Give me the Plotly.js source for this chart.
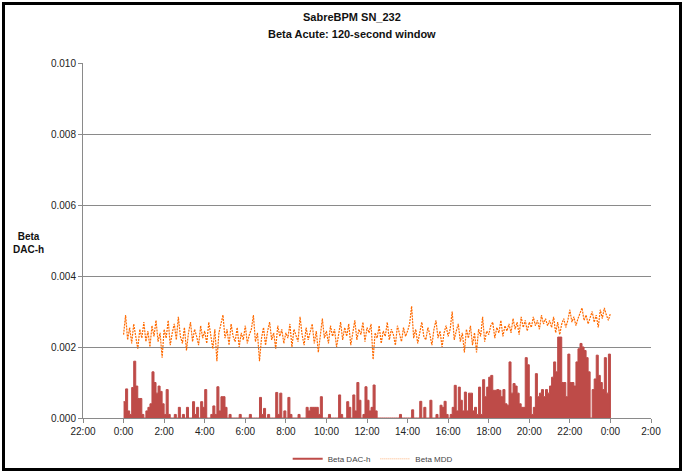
<!DOCTYPE html>
<html>
<head>
<meta charset="utf-8">
<script src="https://cdn.plot.ly/plotly-3.0.1.min.js"></script>
<style>
  html, body { margin: 0; padding: 0; background: #fff; }
  #wrap { position: relative; width: 686px; height: 474px; }
  #chart { width: 686px; height: 474px; }
  #frame { position: absolute; left: 2px; top: 2px; width: 680px; height: 469px;
           box-sizing: border-box; border: 3px solid #000; pointer-events: none; }
</style>
</head>
<body>
<div id="wrap"><div id="chart"></div><div id="frame"></div></div>
<script>
// ---- data (hours since midnight; 6-minute samples starting at 0:00) ----
const sampleStartHour = 0;
const sampleStepHours = 0.1;

// Beta DAC-h (one row per hour, 10 samples each, final sample at 24:00)
const betaDAC = [
  0.00046,0.00082,0.00020,0.00010,0.00086,0.00160,0.00090,0.00055,0.00055,0.00010,
  0.00000,0.00020,0.00030,0.00040,0.00130,0.00100,0.00070,0.00090,0.00075,0.00040,
  0.00010,0.00080,0.00010,0.00000,0.00000,0.00010,0.00000,0.00030,0.00000,0.00010,
  0.00000,0.00030,0.00000,0.00000,0.00046,0.00010,0.00030,0.00000,0.00046,0.00030,
  0.00080,0.00000,0.00000,0.00010,0.00034,0.00010,0.00088,0.00020,0.00060,0.00060,
  0.00030,0.00000,0.00010,0.00000,0.00000,0.00000,0.00000,0.00010,0.00000,0.00000,
  0.00000,0.00000,0.00010,0.00000,0.00000,0.00000,0.00000,0.00058,0.00010,0.00027,
  0.00000,0.00010,0.00000,0.00000,0.00000,0.00072,0.00010,0.00070,0.00000,0.00020,
  0.00000,0.00058,0.00010,0.00000,0.00000,0.00000,0.00010,0.00000,0.00000,0.00000,
  0.00030,0.00020,0.00030,0.00030,0.00030,0.00030,0.00010,0.00060,0.00000,0.00000,
  0.00000,0.00010,0.00000,0.00000,0.00000,0.00000,0.00065,0.00010,0.00000,0.00000,
  0.00046,0.00030,0.00000,0.00065,0.00020,0.00100,0.00050,0.00000,0.00010,0.00088,
  0.00050,0.00020,0.00030,0.00093,0.00020,0.00000,0.00000,0.00000,0.00000,0.00000,
  0.00000,0.00000,0.00000,0.00000,0.00000,0.00000,0.00010,0.00000,0.00000,0.00000,
  0.00000,0.00000,0.00023,0.00000,0.00000,0.00000,0.00047,0.00000,0.00030,0.00000,
  0.00000,0.00050,0.00000,0.00000,0.00010,0.00000,0.00036,0.00030,0.00047,0.00010,
  0.00000,0.00010,0.00030,0.00092,0.00020,0.00087,0.00050,0.00020,0.00073,0.00020,
  0.00070,0.00070,0.00020,0.00030,0.00010,0.00087,0.00010,0.00108,0.00060,0.00087,
  0.00115,0.00120,0.00078,0.00078,0.00080,0.00078,0.00060,0.00080,0.00040,0.00036,
  0.00158,0.00070,0.00097,0.00090,0.00070,0.00040,0.00030,0.00030,0.00170,0.00150,
  0.00060,0.00010,0.00030,0.00125,0.00060,0.00070,0.00080,0.00060,0.00080,0.00070,
  0.00090,0.00115,0.00158,0.00130,0.00228,0.00228,0.00100,0.00100,0.00060,0.00180,
  0.00100,0.00100,0.00090,0.00158,0.00195,0.00210,0.00200,0.00190,0.00170,0.00130,
  0.00000,0.00080,0.00110,0.00177,0.00120,0.00100,0.00080,0.00170,0.00070,0.00180,
  0.00000
];

// Beta MDD
const betaMDD = [
  0.00235,0.00290,0.00220,0.00255,0.00210,0.00265,0.00230,0.00195,0.00250,0.00225,
  0.00270,0.00215,0.00245,0.00200,0.00260,0.00230,0.00275,0.00215,0.00240,0.00170,
  0.00250,0.00225,0.00275,0.00205,0.00240,0.00265,0.00220,0.00285,0.00230,0.00210,
  0.00255,0.00190,0.00240,0.00270,0.00215,0.00250,0.00230,0.00205,0.00260,0.00225,
  0.00245,0.00210,0.00270,0.00230,0.00195,0.00250,0.00160,0.00240,0.00265,0.00290,
  0.00225,0.00250,0.00205,0.00265,0.00230,0.00215,0.00255,0.00200,0.00240,0.00220,
  0.00260,0.00210,0.00235,0.00250,0.00290,0.00215,0.00240,0.00160,0.00225,0.00255,
  0.00205,0.00245,0.00270,0.00220,0.00240,0.00195,0.00260,0.00230,0.00250,0.00210,
  0.00240,0.00225,0.00265,0.00200,0.00250,0.00230,0.00215,0.00285,0.00235,0.00205,
  0.00255,0.00220,0.00240,0.00265,0.00210,0.00245,0.00185,0.00230,0.00280,0.00225,
  0.00245,0.00210,0.00260,0.00230,0.00250,0.00200,0.00240,0.00270,0.00220,0.00255,
  0.00230,0.00265,0.00205,0.00245,0.00275,0.00220,0.00250,0.00235,0.00270,0.00215,
  0.00255,0.00240,0.00265,0.00165,0.00240,0.00225,0.00260,0.00210,0.00245,0.00230,
  0.00270,0.00220,0.00250,0.00235,0.00205,0.00260,0.00240,0.00215,0.00255,0.00230,
  0.00245,0.00265,0.00315,0.00225,0.00250,0.00210,0.00240,0.00270,0.00230,0.00220,
  0.00255,0.00235,0.00205,0.00250,0.00275,0.00225,0.00245,0.00200,0.00240,0.00260,
  0.00230,0.00250,0.00300,0.00220,0.00245,0.00265,0.00215,0.00240,0.00185,0.00250,
  0.00225,0.00260,0.00205,0.00240,0.00185,0.00250,0.00230,0.00285,0.00215,0.00245,
  0.00235,0.00260,0.00270,0.00225,0.00255,0.00240,0.00275,0.00230,0.00260,0.00245,
  0.00265,0.00240,0.00280,0.00250,0.00270,0.00235,0.00285,0.00255,0.00275,0.00245,
  0.00270,0.00255,0.00285,0.00260,0.00275,0.00250,0.00290,0.00265,0.00280,0.00260,
  0.00275,0.00255,0.00285,0.00240,0.00270,0.00235,0.00265,0.00280,0.00255,0.00275,
  0.00305,0.00270,0.00285,0.00260,0.00280,0.00295,0.00310,0.00275,0.00290,0.00265,
  0.00285,0.00300,0.00270,0.00290,0.00255,0.00305,0.00280,0.00310,0.00290,0.00275,
  0.00295
];

const xTickHours  = [-2, 0, 2, 4, 6, 8, 10, 12, 14, 16, 18, 20, 22, 24, 26];
const xTickLabels = ['22:00','0:00','2:00','4:00','6:00','8:00','10:00','12:00','14:00','16:00','18:00','20:00','22:00','0:00','2:00'];

const seriesNames = ['Beta DAC-h', 'Beta MDD'];
const titleLines  = ['SabreBPM SN_232', 'Beta Acute: 120-second window'];
const yTitleLines = ['Beta', 'DAC-h'];

// ---- build ----
const hours = betaDAC.map((_, i) => sampleStartHour + i * sampleStepHours);

const FONT = 'Liberation Sans, Arial, sans-serif';
const GRID = '#8a8a8a';
const RED = '#BE4B48';
const ORANGE = '#FF6A00';

const traces = [
  {
    x: hours, y: betaDAC, name: seriesNames[0], type: 'scatter', mode: 'lines',
    fill: 'tozeroy', fillcolor: RED, showlegend: false,
    line: { color: RED, width: 1, shape: 'hv' }
  },
  {
    x: hours, y: betaMDD, name: seriesNames[1], type: 'scatter', mode: 'lines',
    showlegend: false,
    line: { color: ORANGE, width: 1.2, dash: '2px,1px' }
  },
  // legend keys (line style as in the original legend)
  { x: [null], y: [null], name: seriesNames[0], type: 'scatter', mode: 'lines',
    line: { color: RED, width: 2 } },
  { x: [null], y: [null], name: seriesNames[1], type: 'scatter', mode: 'lines',
    line: { color: '#FFB27A', width: 1, dash: '1px,1px' } }
];

const titleAnn = (txt, ypx, size) => ({
  text: '<b>' + txt + '</b>', xref: 'paper', yref: 'paper',
  x: (352 - 83) / 568, y: (418 - ypx) / 355, xanchor: 'center', yanchor: 'middle',
  showarrow: false, font: { family: FONT, size: size, color: '#111' }
});

const layout = {
  width: 686, height: 474,
  margin: { l: 83, r: 35, t: 63, b: 56, autoexpand: false },
  paper_bgcolor: '#ffffff', plot_bgcolor: '#ffffff',
  font: { family: FONT, size: 10, color: '#222' },
  showlegend: true,
  hovermode: false,
  xaxis: {
    range: [-2, 26],
    tickmode: 'array', tickvals: xTickHours, ticktext: xTickLabels,
    showgrid: false, zeroline: false,
    showline: true, linecolor: GRID, linewidth: 1,
    ticks: 'outside', ticklen: 4, tickcolor: GRID,
    tickfont: { family: FONT, size: 10, color: '#222' }
  },
  yaxis: {
    range: [0, 0.010], dtick: 0.002, tick0: 0, tickformat: '.3f',
    showgrid: true, gridcolor: GRID, gridwidth: 1,
    zeroline: false,
    showline: true, linecolor: GRID, linewidth: 1,
    ticks: 'outside', ticklen: 4, tickcolor: GRID,
    tickfont: { family: FONT, size: 10, color: '#222' }
  },
  legend: {
    orientation: 'h', x: 0.51, xanchor: 'center', y: -0.115, yanchor: 'middle',
    font: { family: FONT, size: 8, color: '#444' },
    bgcolor: 'rgba(0,0,0,0)', itemwidth: 30
  },
  annotations: [
    titleAnn(titleLines[0], 17, 11),
    titleAnn(titleLines[1], 34, 11),
    {
      text: '<b>' + yTitleLines.join('<br>') + '</b>',
      xref: 'paper', yref: 'paper',
      x: (28 - 83) / 568, y: (418 - 243) / 355, xanchor: 'center', yanchor: 'middle',
      showarrow: false, align: 'center',
      font: { family: FONT, size: 10, color: '#111' }
    }
  ]
};

Plotly.newPlot('chart', traces, layout, { displayModeBar: false, staticPlot: true });
</script>
</body>
</html>
